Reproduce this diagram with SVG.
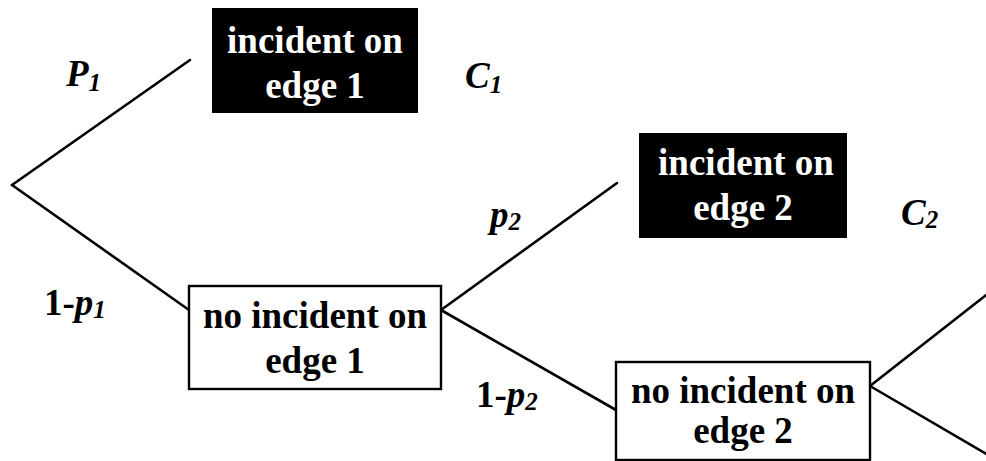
<svg xmlns="http://www.w3.org/2000/svg" width="986" height="461" viewBox="0 0 986 461">
  <style>
    .edge { stroke: #000; stroke-width: 2.6; fill: none; stroke-linecap: round; }
    .box-dark { fill: #000; stroke: #000; stroke-width: 2; }
    .box-light { fill: #fff; stroke: #000; stroke-width: 2.4; }
    text { font-family: 'Liberation Serif', 'Times New Roman', Tinos, 'DejaVu Serif', serif; font-weight: bold; }
    .node-text { font-size: 37px; text-anchor: middle; }
    .dark-text { fill: #fff; }
    .light-text { fill: #000; }
    .lbl { font-size: 37px; fill: #000; }
    .it { font-style: italic; }
    .sub { font-style: italic; font-size: 25px; }
  </style>
  <rect width="986" height="461" fill="#fff"/>

  <!-- branches of the tree -->
  <g id="connectors">
    <line class="edge" x1="12" y1="185" x2="190" y2="60"/>
    <line class="edge" x1="12" y1="185" x2="189" y2="310"/>
    <line class="edge" x1="441" y1="310" x2="617" y2="183"/>
    <line class="edge" x1="441" y1="310" x2="616" y2="410"/>
    <line class="edge" x1="870" y1="386" x2="990" y2="292"/>
    <line class="edge" x1="870" y1="386" x2="990" y2="456"/>
  </g>

  <!-- branch probabilities and costs -->
  <g id="labels">
    <text class="lbl it" x="66" y="86">P<tspan class="sub" dy="5">1</tspan></text>
    <text class="lbl it" x="465" y="88">C<tspan class="sub" dy="5">1</tspan></text>
    <text class="lbl" x="44" y="315">1-<tspan class="it">p</tspan><tspan class="sub" dy="3">1</tspan></text>
    <text class="lbl it" x="490" y="227">p<tspan class="sub" dy="3">2</tspan></text>
    <text class="lbl it" x="901" y="225">C<tspan class="sub" dy="3">2</tspan></text>
    <text class="lbl" x="476" y="407">1-<tspan class="it">p</tspan><tspan class="sub" dy="3">2</tspan></text>
  </g>

  <g id="incident-edge-1">
    <rect class="box-dark" x="213" y="9" width="204" height="103"/>
    <text class="node-text dark-text" x="315" y="53">incident on</text>
    <text class="node-text dark-text" x="315" y="98">edge 1</text>
  </g>

  <g id="no-incident-edge-1">
    <rect class="box-light" x="189" y="286" width="252" height="103"/>
    <text class="node-text light-text" x="315" y="328">no incident on</text>
    <text class="node-text light-text" x="315" y="373">edge 1</text>
  </g>

  <g id="incident-edge-2">
    <rect class="box-dark" x="640" y="134" width="206" height="103"/>
    <text class="node-text dark-text" x="746" y="175">incident on</text>
    <text class="node-text dark-text" x="743" y="220">edge 2</text>
  </g>

  <g id="no-incident-edge-2">
    <rect class="box-light" x="616" y="362" width="254" height="98"/>
    <text class="node-text light-text" x="743" y="403">no incident on</text>
    <text class="node-text light-text" x="743" y="443">edge 2</text>
  </g>
</svg>
